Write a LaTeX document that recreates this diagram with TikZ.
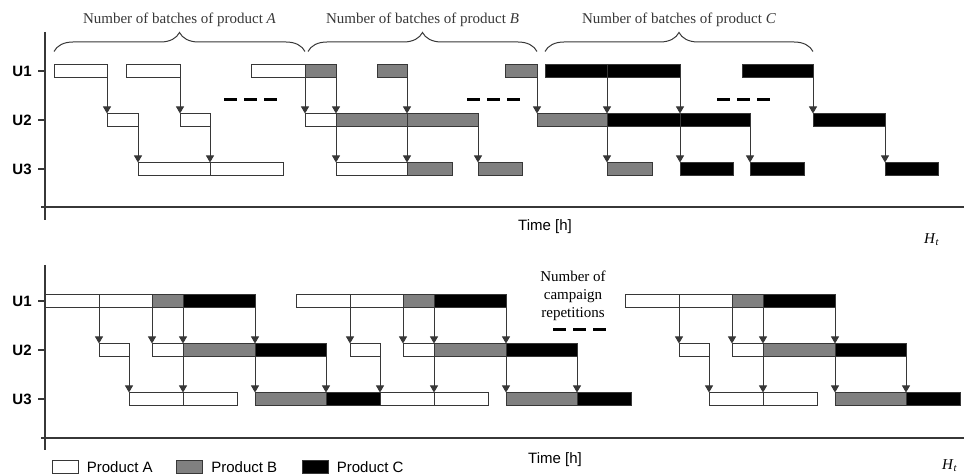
\documentclass[tikz,border=0pt]{standalone}
\usepackage{fontspec}
\setmainfont{Liberation Serif}
\setsansfont{Liberation Sans}
\usetikzlibrary{arrows.meta, positioning, decorations.pathreplacing}
\definecolor{prodgray}{RGB}{128,128,128}
\definecolor{linegray}{RGB}{55,55,55}

\begin{document}
\begin{tikzpicture}[x=0.5pt, y=-0.5pt,
    bar/.style={draw=linegray, line width=0.5pt, minimum height=6.5pt,
                inner sep=0pt, outer sep=0pt, anchor=west},
    key/.style={draw=linegray, line width=0.5pt, minimum width=13pt,
                minimum height=6.5pt, inner sep=0pt},
    flow/.style={-{Triangle[width=4pt, length=3.5pt]}, line width=0.5pt, linegray},
    axis/.style={line width=0.75pt, linegray},
    unit/.style={font=\sffamily\bfseries\fontsize{7.5}{9}\selectfont, anchor=east, inner sep=1pt},
    note/.style={font=\fontsize{7.5}{9}\selectfont, align=center, inner sep=1pt},
    tlabel/.style={font=\sffamily\fontsize{7.5}{9}\selectfont, inner sep=1pt},
    brc/.style={decorate, decoration={brace, amplitude=9.5pt}, line width=0.5pt, linegray},
    ellip/.style={line width=1.5pt, dash pattern=on 6.5pt off 3.5pt}
  ]
  \useasboundingbox (0,0) rectangle (965,474);

  % axes
  \draw[axis] (45,32) -- (45,220);
  \draw[axis] (41,207) -- (964,207);
  \draw[axis] (45,265) -- (45,450);
  \draw[axis] (41,438) -- (964,438);
  \foreach \y/\u in {71/1, 120/2, 169/3} {
    \draw[axis] (38,\y) -- (45,\y);
    \node[unit] (tU\u) at (34,\y) {U\u};
  }
  \foreach \y/\u in {301/1, 350/2, 399/3} {
    \draw[axis] (38,\y) -- (45,\y);
    \node[unit] (bU\u) at (34,\y) {U\u};
  }

  % top: batches per unit
  \foreach \bt/\xa/\xb/\fc in {a1/54/107/white, a2/126/180/white, a3/251/305/white,
      b1/305/336/prodgray, b2/377/407/prodgray, b3/505/537/prodgray,
      c1/545/607/black, c2/607/680/black, c3/742/813/black}
    \node[bar, fill=\fc, minimum width={(\xb-\xa)*0.5pt}] (tU1\bt) at (\xa,71) {};
  \foreach \bt/\xa/\xb/\fc in {a1/107/138/white, a2/180/210/white, a3/305/336/white,
      b1/336/407/prodgray, b2/407/478/prodgray, b3/537/607/prodgray,
      c1/607/680/black, c2/680/750/black, c3/813/885/black}
    \node[bar, fill=\fc, minimum width={(\xb-\xa)*0.5pt}] (tU2\bt) at (\xa,120) {};
  \foreach \bt/\xa/\xb/\fc in {a1/138/210/white, a2/210/283/white, a3/336/407/white,
      b1/407/452/prodgray, b2/478/522/prodgray, b3/607/652/prodgray,
      c1/680/733/black, c2/750/804/black, c3/885/938/black}
    \node[bar, fill=\fc, minimum width={(\xb-\xa)*0.5pt}] (tU3\bt) at (\xa,169) {};
  \foreach \bt in {a1,a2,a3,b1,b2,b3,c1,c2,c3} {
    \draw[flow] (tU1\bt.south east) -- (tU2\bt.north west);
    \draw[flow] (tU2\bt.south east) -- (tU3\bt.north west);
  }

  \draw[brc] ([yshift=6.5pt]tU1a1.north west) -- node[note, above=11pt] (capA)
    {Number of batches of product \textit{A}} ([yshift=6.5pt]tU1a3.north east);
  \draw[brc] ([xshift=1.5pt, yshift=6.5pt]tU1b1.north west) -- node[note, above=11pt] (capB)
    {Number of batches of product \textit{B}} ([yshift=6.5pt]tU1b3.north east);
  \draw[brc] ([yshift=6.5pt]tU1c1.north west) -- node[note, above=11pt] (capC)
    {Number of batches of product \textit{C}} ([yshift=6.5pt]tU1c3.north east);

  \draw[ellip] (224,100) -- (277,100);
  \draw[ellip] (467,100) -- (520,100);
  \draw[ellip] (717,100) -- (770,100);

  \node[tlabel] (tTime) at (545,227) {Time [h]};
  \node[note] (tH) at (932,240) {\textit{H}\textsubscript{\textit{t}}};

  % bottom: campaign repeated
  \foreach \rep/\xs in {1/45, 2/296, 3/625} {
    \foreach \bt/\xa/\xb/\fc in {a1/0/54/white, a2/54/107/white, b/107/138/prodgray, c/138/210/black}
      \node[bar, fill=\fc, minimum width={(\xb-\xa)*0.5pt}] (c\rep U1\bt) at (\xs+\xa,301) {};
    \foreach \bt/\xa/\xb/\fc in {a1/54/84/white, a2/107/138/white, b/138/210/prodgray, c/210/281/black}
      \node[bar, fill=\fc, minimum width={(\xb-\xa)*0.5pt}] (c\rep U2\bt) at (\xs+\xa,350) {};
    \foreach \bt/\xa/\xb/\fc in {a1/84/138/white, a2/138/192/white, b/210/281/prodgray, c/281/335/black}
      \node[bar, fill=\fc, minimum width={(\xb-\xa)*0.5pt}] (c\rep U3\bt) at (\xs+\xa,399) {};
    \foreach \bt in {a1,a2,b,c} {
      \draw[flow] (c\rep U1\bt.south east) -- (c\rep U2\bt.north west);
      \draw[flow] (c\rep U2\bt.south east) -- (c\rep U3\bt.north west);
    }
  }

  \node[note] (camp) at (573,296) {Number of\\campaign\\repetitions};
  \draw[ellip] (553,330) -- (606,330);

  \node[tlabel] (bTime) at (555,460) {Time [h]};
  \node[note] (bH) at (950,466) {\textit{H}\textsubscript{\textit{t}}};

  % legend
  \node[key, fill=white] (keyA) at (65,467) {};
  \node[tlabel, right=3pt of keyA] (txtA) {Product A};
  \node[key, fill=prodgray] (keyB) at (189.5,467) {};
  \node[tlabel, right=3pt of keyB] (txtB) {Product B};
  \node[key, fill=black] (keyC) at (315,467) {};
  \node[tlabel, right=3pt of keyC] (txtC) {Product C};
\end{tikzpicture}
\end{document}
